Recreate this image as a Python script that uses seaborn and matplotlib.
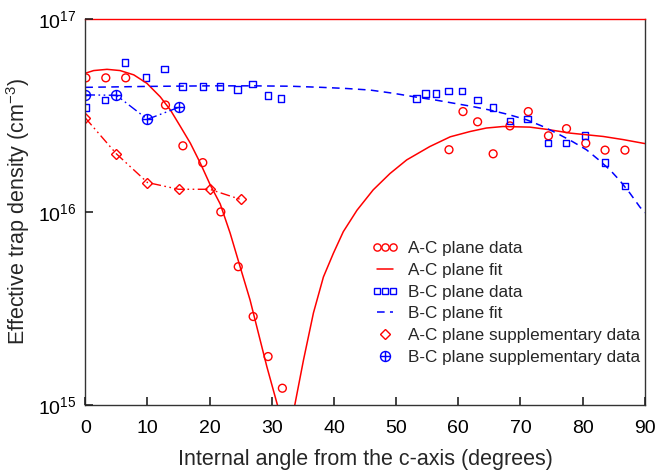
import numpy as np
import pandas as pd
import matplotlib
matplotlib.use("Agg")
import matplotlib.pyplot as plt
from matplotlib.path import Path
from matplotlib.lines import Line2D
from matplotlib.legend_handler import HandlerLine2D
from matplotlib.ticker import FixedLocator, FuncFormatter
import seaborn as sns

# A-C plane measurements (red circles)
ac_angle = [0.1, 3.3, 6.5, 12.9, 15.7, 18.9, 21.8, 24.6, 27.0, 29.4, 31.7,
            58.5, 60.75, 63.1, 65.6, 68.3, 71.25, 74.5, 77.4, 80.5, 83.6, 86.8]
ac_density = [4.95e16, 4.95e16, 4.95e16, 3.58e16, 2.2e16, 1.8e16, 1.0e16, 5.2e15,
              2.87e15, 1.78e15, 1.22e15,
              2.1e16, 3.31e16, 2.93e16, 2.0e16, 2.79e16, 3.31e16, 2.48e16, 2.7e16,
              2.27e16, 2.09e16, 2.09e16]

# A-C plane fit (solid red)
ac_fit_angle = [0, 1.35, 3.5, 5.6, 7.8, 9.9, 12.05, 13.7, 15.3, 16.9, 18.5, 20.1,
                21.7, 23.3, 24.9, 26.5, 27.85, 29.2, 30.9, 32.3,
                33.7, 35.1, 36.7, 38.3, 39.9, 41.5, 43.7, 46.3, 49.0, 51.7, 55.4,
                58.7, 61.9, 64.5, 67.2, 71.5, 74.5, 78.0, 83.3, 86.5, 90.0]
ac_fit_density = [5.23e16, 5.4e16, 5.48e16, 5.4e16, 5.13e16, 4.64e16, 3.95e16,
                  3.37e16, 2.77e16, 2.27e16, 1.79e16, 1.38e16, 1.1e16, 7.76e15,
                  5.2e15, 3.5e15, 2.35e15, 1.58e15, 1.0e15, 4e14,
                  1.0e15, 1.71e15, 3.0e15, 4.6e15, 6.1e15, 7.9e15, 1.02e16, 1.3e16,
                  1.58e16, 1.86e16, 2.18e16, 2.45e16, 2.61e16, 2.72e16, 2.77e16,
                  2.75e16, 2.67e16, 2.56e16, 2.46e16, 2.37e16, 2.26e16]

# B-C plane measurements (blue squares)
bc_angle = [0.1, 3.2, 6.4, 9.75, 12.75, 15.6, 18.9, 21.7, 24.5, 26.9, 29.4, 31.5,
            53.3, 54.75, 56.4, 58.4, 60.6, 63.05, 65.6, 68.3, 71.1, 74.4, 77.3,
            80.4, 83.6, 86.8]
bc_density = [3.48e16, 3.8e16, 5.96e16, 4.97e16, 5.49e16, 4.47e16, 4.47e16, 4.47e16,
              4.31e16, 4.59e16, 4.02e16, 3.88e16,
              3.88e16, 4.11e16, 4.11e16, 4.23e16, 4.23e16, 3.8e16, 3.48e16, 2.95e16,
              3.03e16, 2.27e16, 2.27e16, 2.49e16, 1.8e16, 1.36e16]

# B-C plane fit (dashed blue)
bc_fit_angle = [0, 10, 20, 27, 33, 38, 42, 45.8, 49.5, 53.3, 56.3, 59.2, 62.2, 65.1,
                68.0, 71.0, 73.4, 75.8, 78.2, 80.6, 82.5, 84.4, 86.0, 87.6, 89.2, 90]
bc_fit_density = [4.42e16, 4.47e16, 4.5e16, 4.5e16, 4.48e16, 4.42e16, 4.36e16,
                  4.28e16, 4.12e16, 3.93e16, 3.8e16, 3.66e16, 3.52e16, 3.37e16,
                  3.2e16, 3.0e16, 2.79e16, 2.56e16, 2.33e16, 2.1e16, 1.87e16,
                  1.65e16, 1.45e16, 1.25e16, 1.06e16, 9.9e15]

# supplementary data
ac_sup_angle = [0, 5, 10, 15, 20, 25]
ac_sup_density = [3.07e16, 2.0e16, 1.42e16, 1.31e16, 1.31e16, 1.16e16]
bc_sup_angle = [0, 5, 10, 15]
bc_sup_density = [4.04e16, 4.02e16, 3.02e16, 3.48e16]

labels = ["A-C plane data", "A-C plane fit", "B-C plane data", "B-C plane fit",
          "A-C plane supplementary data", "B-C plane supplementary data"]

sns.set_style("ticks")
plt.rcParams['font.family'] = ['Liberation Sans', 'DejaVu Sans']
plt.rcParams['mathtext.fontset'] = 'custom'
plt.rcParams['mathtext.rm'] = 'Liberation Sans'
plt.rcParams['xtick.direction'] = 'in'
plt.rcParams['ytick.direction'] = 'in'
plt.rcParams['xtick.major.size'] = 5
plt.rcParams['ytick.major.size'] = 5

# circle with a cross inside
circ = Path.unit_circle()
cross = Path([(-1, 0), (1, 0), (0, -1), (0, 1)],
             [Path.MOVETO, Path.LINETO, Path.MOVETO, Path.LINETO])
oplus = Path.make_compound_path(circ, cross)

red = "#ff0000"
blue = "#0000ff"
dashdotdot = (0, (7, 2.5, 1.2, 2.5, 1.2, 2.5))
dashed = (0, (5, 3.5))

fig = plt.figure(figsize=(6.56, 4.73), dpi=100)
ax = fig.add_axes([0.13, 0.144, 0.853, 0.816])

ac = pd.DataFrame({"angle": ac_angle, "density": ac_density})
ac_fit = pd.DataFrame({"angle": ac_fit_angle, "density": ac_fit_density})
bc = pd.DataFrame({"angle": bc_angle, "density": bc_density})
bc_fit = pd.DataFrame({"angle": bc_fit_angle, "density": bc_fit_density})
ac_sup = pd.DataFrame({"angle": ac_sup_angle, "density": ac_sup_density})
bc_sup = pd.DataFrame({"angle": bc_sup_angle, "density": bc_sup_density})

sns.lineplot(data=ac_fit, x="angle", y="density", color=red, lw=1.1,
             sort=False, estimator=None, ax=ax)
sns.lineplot(data=bc_fit, x="angle", y="density", color=blue, lw=1.1,
             ls=dashed, sort=False, estimator=None, ax=ax)
sns.lineplot(data=ac_sup, x="angle", y="density", color=red, lw=1.0, ls=dashdotdot,
             marker="D", ms=5.2, mfc="none", mec=red, mew=1.0,
             sort=False, estimator=None, ax=ax)
sns.lineplot(data=bc_sup, x="angle", y="density", color=blue, lw=1.0, ls=dashdotdot,
             marker=oplus, ms=7.2, mfc="none", mec=blue, mew=1.0,
             sort=False, estimator=None, ax=ax)
sns.scatterplot(data=ac, x="angle", y="density", marker="o", s=32,
                facecolor="none", edgecolor=red, linewidth=1.0, ax=ax)
sns.scatterplot(data=bc, x="angle", y="density", marker="s", s=22,
                facecolor="none", edgecolor=blue, linewidth=1.0, ax=ax)

ax.set_yscale("log")
ax.set_xlim(0, 90)
ax.set_ylim(1e15, 1e17)
ax.xaxis.set_major_locator(FixedLocator(range(0, 91, 10)))
ax.yaxis.set_major_locator(FixedLocator([1e15, 1e16, 1e17]))
ax.yaxis.set_minor_locator(FixedLocator([]))
ax.yaxis.set_major_formatter(FuncFormatter(lambda v, p: r"$\mathregular{10^{%d}}$" % round(np.log10(v))))
ax.set_axisbelow(False)
ax.tick_params(which="major", direction="in", length=6, width=1.2, labelsize=14,
               color="#222222", labelcolor="black", bottom=True, left=True,
               top=False, right=False)
ax.tick_params(axis="x", pad=11)
ax.tick_params(axis="y", pad=6)
ax.set_xlabel("Internal angle from the c-axis (degrees)", fontsize=15.5, labelpad=8.5)
ax.set_ylabel(r"Effective trap density (cm$^{\mathregular{-3}}$)", fontsize=15.5, labelpad=5)

for s in ax.spines.values():
    s.set_color("#333333")
    s.set_linewidth(1.0)
ax.spines["top"].set_color(red)

handles = [
    Line2D([], [], ls="none", marker="o", ms=5.2, mfc="none", mec=red, mew=1.0),
    Line2D([], [], color=red, lw=1.1),
    Line2D([], [], ls="none", marker="s", ms=4.4, mfc="none", mec=blue, mew=1.0),
    Line2D([], [], color=blue, lw=1.1, ls=dashed),
    Line2D([], [], ls="none", marker="D", ms=5.2, mfc="none", mec=red, mew=1.0),
    Line2D([], [], ls="none", marker=oplus, ms=7.2, mfc="none", mec=blue, mew=1.0),
]
single = HandlerLine2D(numpoints=1)
leg = ax.legend(handles, labels, loc="upper left", bbox_to_anchor=(0.5125, 0.425),
                frameon=False, fontsize=12.3, numpoints=3, handlelength=1.5,
                handletextpad=0.6, labelspacing=0.4, borderpad=0, borderaxespad=0,
                handler_map={handles[4]: single, handles[5]: single})

fig.savefig("out.png", dpi=100)
